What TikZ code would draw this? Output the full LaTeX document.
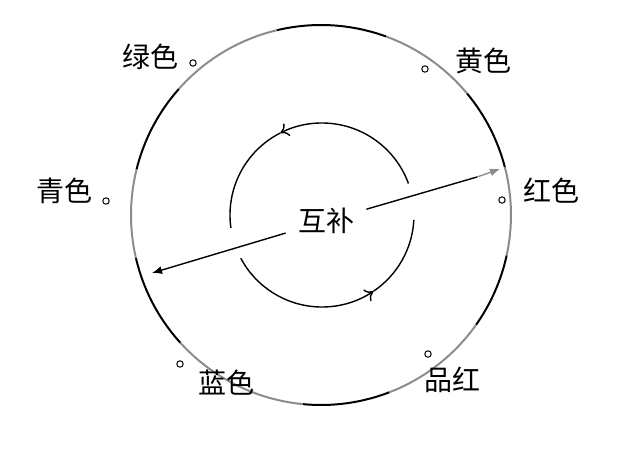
\documentclass[tikz,border=0pt]{standalone}
\usepackage{fontspec}
\newfontfamily\cjk{Noto Sans CJK SC}
\usetikzlibrary{arrows.meta}
\definecolor{ringgray}{gray}{0.55}
\begin{document}
\begin{tikzpicture}[x=0.5pt,y=0.5pt]
			\tikzset{label/.style = {font=\cjk\fontsize{14}{16}\selectfont, inner sep=0pt}}
			\tikzset{dot/.style = {shape=circle,draw,line width=0.5pt,minimum size=3.2pt, inner sep=0pt}}
			\tikzset{ring/.style = {line width=1pt}}
			\tikzset{turn/.style = {line width=0.7pt,-{To[length=4pt,width=7pt]}}}
			\useasboundingbox (-321,-247) rectangle (321,215);
			% Draw the outer ring
			\foreach \a/\b/\c in {70/103.4/black, 39.7/70/ringgray, 14.5/39.7/black, -12.3/14.5/ringgray, -35.3/-12.3/black, -69/-35.3/ringgray, -95.4/-69/black, -137.8/-95.4/ringgray, -167/-137.8/black, 166/193/ringgray, 138.4/166/black, 103.4/138.4/ringgray}
				\draw[ring, \c] (\a:190) arc (\a:\b:190);
			% Draw the inner turn
			\draw[turn] ([shift={(20:92)}]1,0) arc (20:117:92);
			\draw[line width=0.7pt] ([shift={(117:92)}]1,0) arc (117:188:92);
			\draw[turn] ([shift={(208:92)}]1,0) arc (208:304:92);
			\draw[line width=0.7pt] ([shift={(304:92)}]1,0) arc (304:357:92);
			% Labels and dots
			\node[label] (G) at (-170,158) {绿色};
			\node[label] (Y) at (162,154) {黄色};
			\node[label] (R) at (230,24) {红色};
			\node[label] (C) at (-256,24) {青色};
			\node[label] (B) at (-94,-168) {蓝色};
			\node[label] (M) at (131,-165) {品红};
			\node[dot] (g) at (-128,152) {};
			\node[dot] (y) at (104,146) {};
			\node[dot] (r) at (181,15) {};
			\node[dot] (c) at (-215,14) {};
			\node[dot] (b) at (-141,-149) {};
			\node[dot] (m) at (107,-139) {};
			% Complement arrow
			\node[label, inner sep=6pt] (mid) at (5,-6) {互补};
			\coordinate (rg) at (156,38);
			\coordinate (rt) at (179,46);
			\coordinate (lt) at (-169,-58);
			\draw[line width=0.7pt] (mid) -- (rg);
			\draw[line width=0.7pt, ringgray, -{Latex[length=5pt,width=4pt]}] (rg) -- (rt);
			\draw[line width=0.7pt, -{Latex[length=5pt,width=4pt]}] (mid) -- (lt);
		\end{tikzpicture}
\end{document}
